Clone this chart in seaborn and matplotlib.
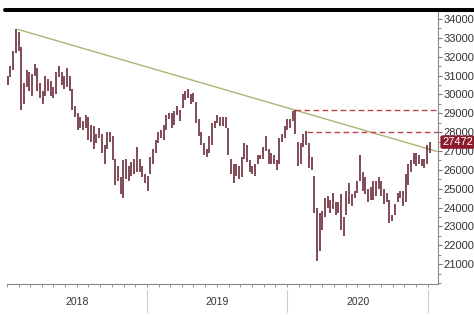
import numpy as np
import pandas as pd
import matplotlib.pyplot as plt
import matplotlib.dates as mdates
from matplotlib.lines import Line2D
from matplotlib.ticker import MultipleLocator
import seaborn as sns

# weekly high / low ranges, Jan 2018 - first week of Jan 2021
lows = [
    30500, 30900, 31300, 32200, 32300, 29200, 29500, 30400, 30200, 29900,
    31000, 30200, 29800, 29500, 29900, 30200, 29900, 29800, 30000, 30900,
    30500, 30300, 30400, 30200, 29200, 28800, 28100, 28200, 28100, 28200,
    27600, 27500, 27100, 27400, 27700, 26900, 26300, 27100, 27500, 26500,
    25200, 25400, 24700, 24500, 25500, 25400, 25700, 25800, 25900, 25900,
    25600, 25300, 24900,
    25800, 26300, 26900, 27400, 27700, 27600, 28100, 28700, 28200, 28400,
    28900, 28600, 29300, 29700, 29800, 29500, 29600, 28500, 27800, 27300,
    26800, 26700, 26900, 27300, 28200, 28500, 28300, 28300, 28200, 26800,
    25800, 25300, 25700, 25500, 25600, 26600, 26400, 25900, 25800, 25700,
    26300, 26600, 26600, 27000, 26300, 26300, 26300, 26000, 26300, 27500,
    27700, 28100,
    28200, 28600, 27900, 26200, 26300, 27200, 27300, 26100, 26000, 23700,
    21150, 21700, 22800, 23500, 24000, 23700, 23900, 23600, 23700, 22800,
    22500, 23600, 24200, 24100, 24500, 24800, 25400, 24900, 24700, 24300,
    24400, 24400, 24600, 25000, 24600, 24200, 24300, 23200, 23300, 23600,
    24300, 24500, 24100, 24300, 25200, 25900, 26300, 26200, 26300, 26200,
    26100, 26300, 26900,
]
highs = [
    31000, 31500, 32300, 33450, 33300, 32500, 30600, 31300, 31200, 31100,
    31600, 31400, 30600, 30200, 31000, 30800, 30700, 30400, 31200, 31500,
    31200, 31000, 31400, 31000, 30300, 29400, 29000, 28800, 28600, 28900,
    28800, 28400, 28300, 27900, 28200, 27900, 27300, 28000, 28000, 27800,
    26600, 26200, 25600, 26500, 26600, 26200, 26400, 26600, 27200, 26600,
    26200, 25800, 25700,
    26700, 27100, 27600, 28000, 28100, 28400, 28900, 29000, 29000, 29100,
    29400, 29200, 30000, 30200, 30280, 30000, 30100, 29600, 28700, 28000,
    27400, 27100, 27800, 28500, 28600, 28900, 28800, 28800, 28800, 28200,
    26600, 26300, 26300, 26200, 26700, 27400, 27300, 26500, 26200, 26300,
    26800, 26800, 27200, 27800, 27100, 26900, 26800, 26500, 27700, 27900,
    28300, 28700,
    28700, 29100, 29175, 27500, 27400, 27900, 28050, 27400, 26700, 25700,
    24000, 23700, 23800, 24500, 24600, 24400, 24800, 24300, 24300, 24700,
    23500, 24900, 25300, 24700, 24900, 25400, 26800, 25900, 25600, 25000,
    25100, 25400, 25400, 25600, 25400, 25000, 24800, 24400, 23600, 24200,
    24800, 24900, 24900, 25800, 26300, 26500, 26900, 26900, 26800, 26600,
    26600, 27300, 27480,
]
last_close = 27472

# resistance trend line anchors (Jan 2018 top, Jan 2020 top)
trend_dates = ["2018-01-29", "2020-01-20"]
trend_values = [33450, 29175]
# horizontal resistance levels
level_dates = ["2020-01-20", "2020-02-20"]
level_values = [29175, 28000]
years = [2018, 2019, 2020]

weeks = pd.date_range("2018-01-03", periods=len(lows), freq="7D")
df = pd.DataFrame({"date": weeks, "low": lows, "high": highs})

sns.set_theme(style="white")
plt.rcParams["font.family"] = ["Liberation Sans", "DejaVu Sans"]

fig = plt.figure(figsize=(4.74, 3.15), dpi=100)
ax = fig.add_axes([0.0148, 0.0984, 0.909, 0.8635])

x0 = pd.Timestamp("2018-01-01")
x1 = pd.Timestamp("2021-01-27")

# price bars
ax.vlines(df["date"], df["low"], df["high"], color="#5e1a28", lw=1.1, zorder=3)

# trend line extended to the right edge
td = mdates.date2num(pd.to_datetime(trend_dates))
slope = (trend_values[1] - trend_values[0]) / (td[1] - td[0])
tx = np.array([td[0], mdates.date2num(x1)])
ty = trend_values[0] + slope * (tx - td[0])
trend = pd.DataFrame({"date": mdates.num2date(tx), "value": ty})
sns.lineplot(data=trend, x="date", y="value", ax=ax, color="#b0b372", lw=1.0, zorder=2)

# dashed levels
for d, v in zip(level_dates, level_values):
    ax.hlines(v, pd.Timestamp(d), x1, color="#c0404f", lw=1.0,
              linestyles=(0, (4, 2.5)), zorder=2)

ax.set_xlim(x0, x1)
ax.set_ylim(19950, 34370)

# y axis on right
ax.yaxis.tick_right()
ax.yaxis.set_minor_locator(MultipleLocator(500))
ax.set_yticks([v for v in range(21000, 34001, 1000)])
ax.tick_params(axis="y", which="major", length=3, width=0.8, color="#777777",
               labelsize=8, labelcolor="#333333", pad=1, right=True, left=False)
ax.tick_params(axis="y", which="minor", length=2, width=0.6, color="#777777",
               right=True, left=False)

# x axis: month ticks, year labels centered
ax.xaxis.set_minor_locator(mdates.MonthLocator())
ax.set_xticks([pd.Timestamp(f"{y}-07-02") for y in years])
ax.set_xticklabels([str(y) for y in years])
ax.tick_params(axis="x", which="major", length=0, labelsize=7.5,
               labelcolor="#333333", pad=9)
ax.tick_params(axis="x", which="minor", length=2.5, width=0.6, color="#888888",
               bottom=True)
ax.set_xlabel("")
ax.set_ylabel("")

for side in ["top", "left"]:
    ax.spines[side].set_visible(False)
for side in ["right", "bottom"]:
    ax.spines[side].set_color("#888888")
    ax.spines[side].set_linewidth(0.8)

# year separators below the axis
for y in years:
    ax.plot([pd.Timestamp(f"{y + 1}-01-01")] * 2, [-0.022, -0.103],
            transform=ax.get_xaxis_transform(), color="#cccccc", lw=0.8,
            clip_on=False)

# last value tag
ax.annotate(f"{last_close}", xy=(1.0, last_close),
            xycoords=("axes fraction", "data"), xytext=(3, 0),
            textcoords="offset points", ha="left", va="center",
            fontsize=8, color="white",
            bbox=dict(boxstyle="round,pad=0.15", fc="#8c1c2c", ec="none"),
            annotation_clip=False)

# thick black bar on top
fig.add_artist(Line2D([0.0105, 1.0], [0.968, 0.968], color="black", lw=2.9))

fig.savefig("out.png", dpi=100)
